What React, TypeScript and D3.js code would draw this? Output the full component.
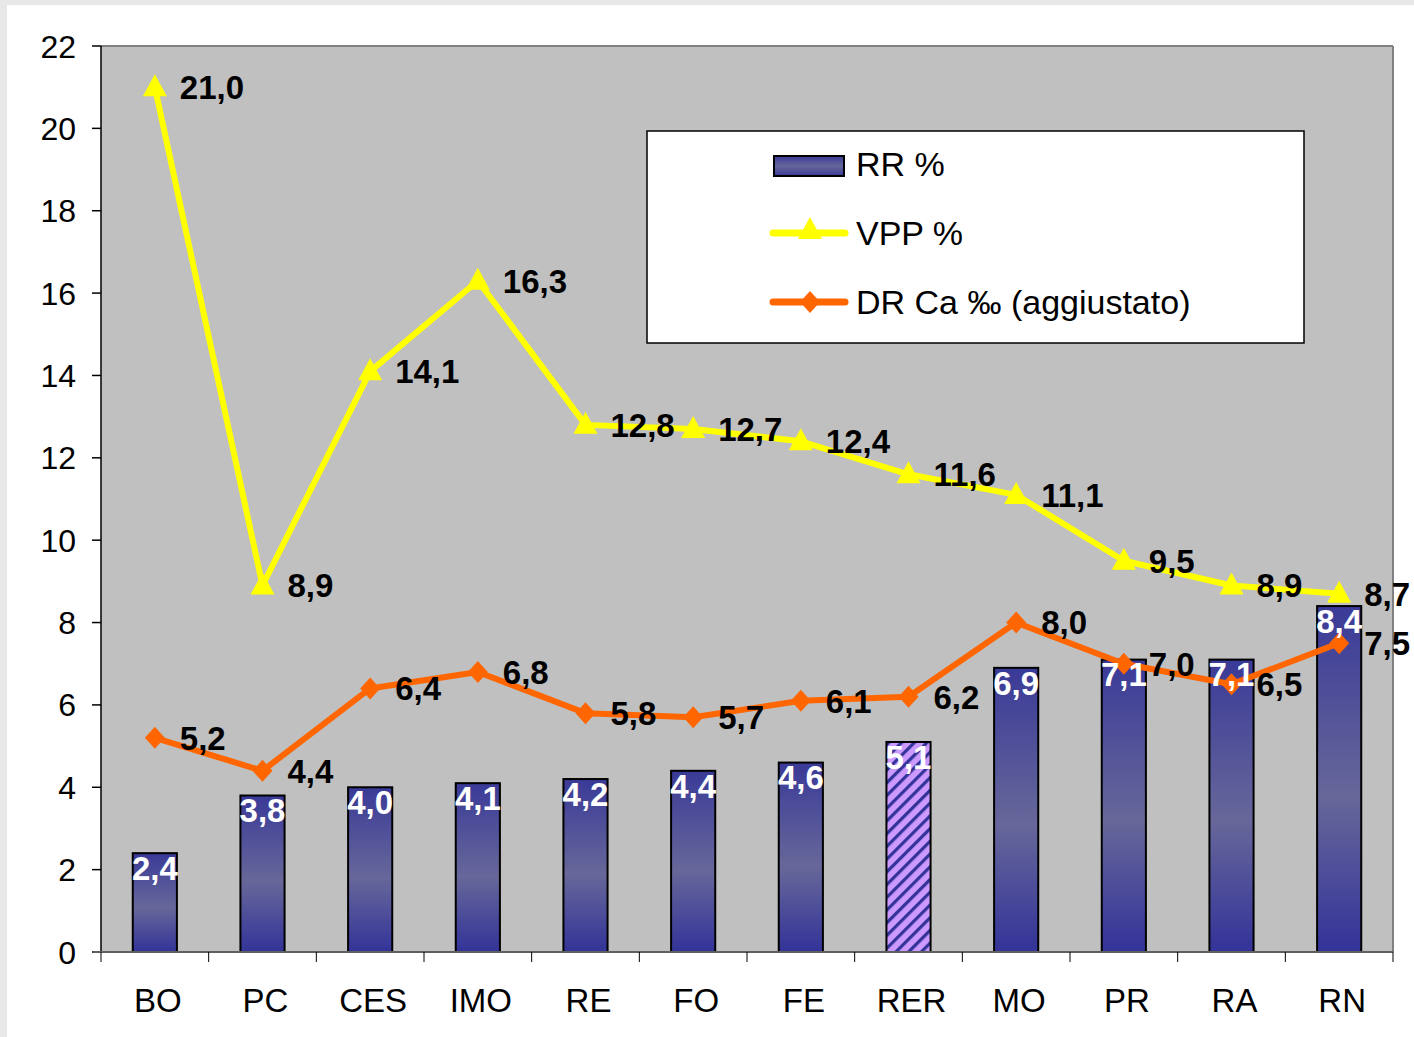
import React from 'react';
import * as d3 from 'd3';

const categories = ['BO', 'PC', 'CES', 'IMO', 'RE', 'FO', 'FE', 'RER', 'MO', 'PR', 'RA', 'RN'];
const rrValues = [2.4, 3.8, 4.0, 4.1, 4.2, 4.4, 4.6, 5.1, 6.9, 7.1, 7.1, 8.4];
const vppValues = [21.0, 8.9, 14.1, 16.3, 12.8, 12.7, 12.4, 11.6, 11.1, 9.5, 8.9, 8.7];
const drValues = [5.2, 4.4, 6.4, 6.8, 5.8, 5.7, 6.1, 6.2, 8.0, 7.0, 6.5, 7.5];
const yTicks = [0, 2, 4, 6, 8, 10, 12, 14, 16, 18, 20, 22];
const legendLabels = ['RR %', 'VPP %', 'DR Ca \u2030 (aggiustato)'];
const highlight = 'RER';

const W = 1414;
const H = 1037;
const plot = { left: 101, right: 1393, top: 46, bottom: 952 };
const FONT = '"Liberation Sans", Arial, sans-serif';

const fmt = (v: number) => v.toFixed(1).replace('.', ',');

export default function App() {
  const x = d3.scaleBand<string>().domain(categories).range([plot.left, plot.right]).paddingInner(0).paddingOuter(0);
  const y = d3.scaleLinear().domain([0, 22]).range([plot.bottom, plot.top]);
  const bw = x.bandwidth() * 0.41;
  const cx = (c: string) => (x(c) as number) + x.bandwidth() / 2;

  const line = d3.line<number>().x((_, i) => cx(categories[i])).y((d) => y(d));
  const tri = 'M0,-13L12,9L-12,9Z';
  const diamond = 'M0,-11L10,0L0,11L-10,0Z';

  return (
    <svg width={W} height={H} style={{ position: 'absolute', left: 0, top: 0 }} fontFamily={FONT}>
      <defs>
        <linearGradient id="barGrad" x1="0" y1="0" x2="0" y2="1">
          <stop offset="0" stopColor="#3a3a98" />
          <stop offset="0.55" stopColor="#67679a" />
          <stop offset="1" stopColor="#333399" />
        </linearGradient>
        <linearGradient id="legGrad" x1="0" y1="0" x2="0" y2="1">
          <stop offset="0" stopColor="#3a3a98" />
          <stop offset="0.5" stopColor="#67679a" />
          <stop offset="1" stopColor="#3a3a98" />
        </linearGradient>
        <pattern id="hatch" width="9" height="9" patternUnits="userSpaceOnUse" patternTransform="rotate(45)">
          <rect width="9" height="9" fill="#cc99ff" />
          <rect x="0" y="0" width="3.2" height="9" fill="#333399" />
        </pattern>
      </defs>
      <rect width={W} height={H} fill="#e8e8e8" />
      <rect x={7} y={5} width={W - 7} height={H - 5} fill="#ffffff" />

      {/* plot area */}
      <rect x={plot.left} y={plot.top} width={plot.right - plot.left} height={plot.bottom - plot.top} fill="#c0c0c0" />
      <line x1={plot.left} x2={plot.right} y1={plot.top} y2={plot.top} stroke="#808080" strokeWidth={2} />
      <line x1={plot.right} x2={plot.right} y1={plot.top} y2={plot.bottom} stroke="#808080" strokeWidth={2} />

      {/* bars */}
      {categories.map((c, i) => (
        <rect
          key={c}
          x={cx(c) - bw / 2}
          y={y(rrValues[i])}
          width={bw}
          height={plot.bottom - y(rrValues[i])}
          fill={c === highlight ? 'url(#hatch)' : 'url(#barGrad)'}
          stroke="#000"
          strokeWidth={2}
        />
      ))}

      {/* axes */}
      <line x1={plot.left} x2={plot.left} y1={plot.top} y2={plot.bottom} stroke="#000" strokeWidth={1.5} />
      {yTicks.map((t) => (
        <g key={t}>
          <line x1={plot.left - 9} x2={plot.left} y1={y(t)} y2={y(t)} stroke="#000" strokeWidth={1.5} />
          <text x={76} y={y(t)} dy="0.36em" textAnchor="end" fontSize={32} fill="#000">{t}</text>
        </g>
      ))}
      <line x1={plot.left - 8} x2={plot.right} y1={plot.bottom} y2={plot.bottom} stroke="#606060" strokeWidth={2} />
      {categories.concat(['']).map((c, i) => {
        const tx = plot.left + i * x.bandwidth();
        return <line key={'t' + i} x1={tx} x2={tx} y1={plot.bottom} y2={plot.bottom + 10} stroke="#000" strokeWidth={1} />;
      })}
      {categories.map((c) => (
        <text key={'c' + c} x={cx(c) + 3} y={1000} dy="0.36em" textAnchor="middle" fontSize={33} fill="#000">{c}</text>
      ))}

      {/* lines */}
      <path d={line(drValues) as string} fill="none" stroke="#ff6600" strokeWidth={6} strokeLinejoin="round" />
      {drValues.map((v, i) => (
        <path key={'d' + i} d={diamond} transform={`translate(${cx(categories[i])},${y(v)})`} fill="#ff6600" />
      ))}
      <path d={line(vppValues) as string} fill="none" stroke="#ffff00" strokeWidth={6} strokeLinejoin="round" />
      {vppValues.map((v, i) => (
        <path key={'v' + i} d={tri} transform={`translate(${cx(categories[i])},${y(v)})`} fill="#ffff00" />
      ))}

      {/* value labels */}
      {rrValues.map((v, i) => (
        <text key={'rl' + i} x={cx(categories[i])} y={y(v) + 15} dy="0.36em" textAnchor="middle" fontSize={33} fontWeight="bold" fill="#fff">{fmt(v)}</text>
      ))}
      {drValues.map((v, i) => (
        <text key={'dl' + i} x={cx(categories[i]) + 25} y={y(v)} dy="0.36em" fontSize={33} fontWeight="bold" fill="#000">{fmt(v)}</text>
      ))}
      {vppValues.map((v, i) => (
        <text key={'vl' + i} x={cx(categories[i]) + 25} y={y(v)} dy="0.36em" fontSize={33} fontWeight="bold" fill="#000">{fmt(v)}</text>
      ))}

      {/* legend */}
      <g>
        <rect x={647} y={131} width={657} height={212} fill="#fff" stroke="#000" strokeWidth={1.5} />
        <rect x={774} y={156} width={70} height={20} fill="url(#legGrad)" stroke="#000" strokeWidth={2} />
        <line x1={773} x2={845} y1={233} y2={233} stroke="#ffff00" strokeWidth={7} strokeLinecap="round" />
        <path d={tri} transform="translate(810,230)" fill="#ffff00" />
        <line x1={773} x2={845} y1={302} y2={302} stroke="#ff6600" strokeWidth={7} strokeLinecap="round" />
        <path d={diamond} transform="translate(810,302)" fill="#ff6600" />
        {legendLabels.map((l, i) => (
          <text key={l} x={856} y={164 + i * 69} dy="0.36em" fontSize={34} fill="#000">{l}</text>
        ))}
      </g>
    </svg>
  );
}
